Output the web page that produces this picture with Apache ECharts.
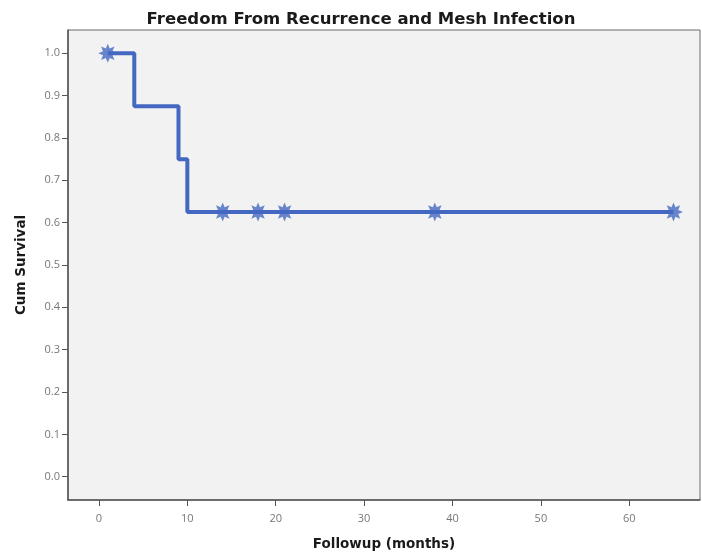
<!DOCTYPE html>
<html>
<head>
<meta charset="utf-8">
<script src="https://cdn.jsdelivr.net/npm/echarts@6/dist/echarts.min.js"></script>
<style>
html,body{margin:0;padding:0;background:#fff;}
#chart{width:702px;height:556px;}
</style>
</head>
<body>
<div id="chart"></div>
<script>
// Kaplan-Meier step data (event times and survival after each step)
var eventTimes = [1, 4, 9, 10, 65];
var eventSurvival = [1.0, 0.875, 0.75, 0.625, 0.625];
// Censored observations
var censorTimes = [1, 14, 18, 21, 38, 65];
var censorSurvival = [1.0, 0.625, 0.625, 0.625, 0.625, 0.625];
// Tick values
var xTicks = [0, 10, 20, 30, 40, 50, 60];
var yTicks = [0.0, 0.1, 0.2, 0.3, 0.4, 0.5, 0.6, 0.7, 0.8, 0.9, 1.0];

// 8-pointed star symbol shape
function starPath(n, ro, ri) {
  var p = [];
  for (var i = 0; i < 2 * n; i++) {
    var r = i % 2 === 0 ? ro : ri;
    var a = Math.PI * i / n - Math.PI / 2;
    p.push((i === 0 ? 'M' : 'L') + (50 + r * Math.cos(a)).toFixed(2) + ' ' + (50 + r * Math.sin(a)).toFixed(2));
  }
  return 'path://' + p.join(' ') + ' Z';
}

var stepData = eventTimes.map(function (t, i) { return [t, eventSurvival[i]]; });
var censData = censorTimes.map(function (t, i) { return [t, censorSurvival[i]]; });

var lineColor = '#4468c2';
var titleFont = 'DejaVu Sans';
var chart = echarts.init(document.getElementById('chart'), null, {renderer: 'canvas'});
chart.setOption({
  animation: false,
  backgroundColor: '#ffffff',
  title: {
    text: 'Freedom From Recurrence and Mesh Infection',
    left: 356, textAlign: 'center', top: 6,
    textStyle: {fontFamily: titleFont, fontWeight: 'bold', fontSize: 16.5, color: '#1a1a1a'}
  },
  grid: {
    left: 68, top: 30, right: 2, bottom: 51,
    show: true, backgroundColor: '#f2f2f2', borderColor: '#6a6a6a', borderWidth: 1
  },
  xAxis: {
    type: 'value', min: -3.5, max: 68,
    name: 'Followup (months)', nameLocation: 'middle', nameGap: 37,
    nameTextStyle: {fontFamily: titleFont, fontWeight: 'bold', fontSize: 13.5, color: '#1a1a1a'},
    axisLine: {show: true, onZero: false, lineStyle: {color: '#555', width: 1.5}},
    axisTick: {show: true, customValues: xTicks, length: 6, lineStyle: {color: '#555'}},
    axisLabel: {customValues: xTicks, color: '#777', fontSize: 11, fontFamily: 'Open Sans', margin: 13},
    splitLine: {show: false}
  },
  yAxis: {
    type: 'value', min: -0.055, max: 1.055,
    name: 'Cum Survival', nameLocation: 'middle', nameGap: 40, nameRotate: 90,
    nameTextStyle: {fontFamily: titleFont, fontWeight: 'bold', fontSize: 13.5, color: '#1a1a1a'},
    axisLine: {show: true, onZero: false, lineStyle: {color: '#555', width: 1.5}},
    axisTick: {show: true, customValues: yTicks, length: 6, lineStyle: {color: '#555'}},
    axisLabel: {customValues: yTicks, color: '#777', fontSize: 11, fontFamily: 'Open Sans', margin: 8,
      formatter: function (v) { return v.toFixed(1); }},
    splitLine: {show: false}
  },
  series: [
    {
      type: 'line', step: 'end', data: stepData, showSymbol: false, symbol: 'none',
      lineStyle: {color: lineColor, width: 4}, z: 2
    },
    {
      type: 'scatter', data: censData, symbol: starPath(8, 50, 27), symbolSize: 19,
      itemStyle: {color: lineColor}, z: 3
    }
  ]
});
</script>
</body>
</html>
